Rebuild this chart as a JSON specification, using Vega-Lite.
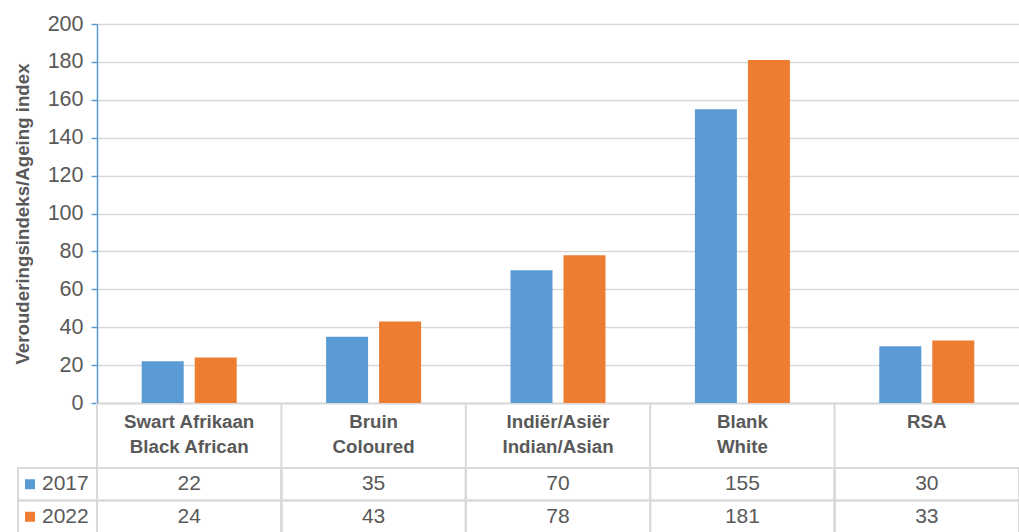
{
  "$schema": "https://vega.github.io/schema/vega-lite/v6.json",
  "background": "white",
  "padding": {"left": 13, "top": 13, "right": 0, "bottom": 0},
  "config": {
    "view": {"stroke": null},
    "font": "Liberation Sans",
    "axis": {"labelFont": "Liberation Sans", "titleFont": "Liberation Sans"}
  },
  "datasets": {
    "vals": [
      {"cat": "Swart Afrikaan|Black African", "year": "2017", "value": 22},
      {"cat": "Swart Afrikaan|Black African", "year": "2022", "value": 24},
      {"cat": "Bruin|Coloured", "year": "2017", "value": 35},
      {"cat": "Bruin|Coloured", "year": "2022", "value": 43},
      {"cat": "Indiër/Asiër|Indian/Asian", "year": "2017", "value": 70},
      {"cat": "Indiër/Asiër|Indian/Asian", "year": "2022", "value": 78},
      {"cat": "Blank|White", "year": "2017", "value": 155},
      {"cat": "Blank|White", "year": "2022", "value": 181},
      {"cat": "RSA", "year": "2017", "value": 30},
      {"cat": "RSA", "year": "2022", "value": 33}
    ],
    "cats": [
      {"cat": "Swart Afrikaan|Black African"},
      {"cat": "Bruin|Coloured"},
      {"cat": "Indiër/Asiër|Indian/Asian"},
      {"cat": "Blank|White"},
      {"cat": "RSA"}
    ],
    "years": [{"year": "2017"}, {"year": "2022"}]
  },
  "columns": 2,
  "spacing": 0,
  "bounds": "flush",
  "resolve": {"scale": {"x": "independent", "y": "independent", "color": "shared"}},
  "concat": [
    {
      "width": 79,
      "height": 379,
      "data": {"name": "years"},
      "mark": {"type": "point", "opacity": 0},
      "encoding": {}
    },
    {
      "width": 922,
      "height": 379,
      "data": {"name": "vals"},
      "mark": {"type": "bar"},
      "encoding": {
        "x": {
          "field": "cat", "type": "nominal",
          "scale": {"domain": ["Swart Afrikaan|Black African", "Bruin|Coloured", "Indiër/Asiër|Indian/Asian", "Blank|White", "RSA"], "paddingInner": 0, "paddingOuter": 0},
          "axis": {"labels": false, "ticks": false, "title": null, "domainColor": "#d9d9d9", "domainWidth": 2}
        },
        "xOffset": {
          "field": "year", "type": "nominal",
          "scale": {"domain": ["2017", "2022"], "paddingInner": 0.2075, "paddingOuter": 0.843}
        },
        "y": {
          "field": "value", "type": "quantitative",
          "scale": {"domain": [0, 200]},
          "axis": {
            "values": [0, 20, 40, 60, 80, 100, 120, 140, 160, 180, 200],
            "title": "Verouderingsindeks/Ageing index",
            "domainColor": "#5b9bd5", "domainWidth": 1.5,
            "tickColor": "#5b9bd5", "tickWidth": 1.5, "tickSize": 6,
            "gridColor": "#d9d9d9", "gridWidth": 1.5,
            "labelFontSize": 21.5, "labelColor": "#595959", "labelPadding": 8,
            "titleFontSize": 18.7, "titleColor": "#595959", "titleFontWeight": "bold", "titlePadding": 15
          }
        },
        "color": {
          "field": "year", "type": "nominal",
          "scale": {"domain": ["2017", "2022"], "range": ["#5b9bd5", "#ed7d31"]},
          "legend": null
        }
      }
    },
    {
      "width": 79,
      "height": 130,
      "data": {"name": "years"},
      "encoding": {
        "y": {"field": "year", "type": "nominal", "scale": {"domain": ["h1", "h2", "2017", "2022"], "paddingInner": 0, "paddingOuter": 0}, "axis": null}
      },
      "layer": [
        {"mark": {"type": "rect", "fill": "transparent", "stroke": "#d9d9d9", "strokeWidth": 2}},
        {
          "mark": {"type": "square", "size": 100, "filled": true, "opacity": 1, "xOffset": -27.5},
          "encoding": {"color": {"field": "year", "type": "nominal", "scale": {"domain": ["2017", "2022"], "range": ["#5b9bd5", "#ed7d31"]}, "legend": null}}
        },
        {
          "mark": {"type": "text", "fontSize": 21, "color": "#595959", "align": "left", "dx": -15.5},
          "encoding": {"text": {"field": "year"}}
        }
      ]
    },
    {
      "width": 922,
      "height": 130,
      "layer": [
        {
          "data": {"name": "cats"},
          "mark": {"type": "rule", "color": "#d9d9d9", "strokeWidth": 2},
          "encoding": {
            "x": {"field": "cat", "type": "nominal", "bandPosition": 0, "scale": {"domain": ["Swart Afrikaan|Black African", "Bruin|Coloured", "Indiër/Asiër|Indian/Asian", "Blank|White", "RSA"], "paddingInner": 0, "paddingOuter": 0}, "axis": null}
          }
        },
        {
          "data": {"name": "vals"},
          "mark": {"type": "rect", "fill": "transparent", "stroke": "#d9d9d9", "strokeWidth": 2},
          "encoding": {
            "x": {"field": "cat", "type": "nominal", "axis": null},
            "y": {"field": "year", "type": "nominal", "scale": {"domain": ["h1", "h2", "2017", "2022"], "paddingInner": 0, "paddingOuter": 0}, "axis": null}
          }
        },
        {
          "data": {"name": "vals"},
          "mark": {"type": "text", "fontSize": 21, "color": "#595959"},
          "encoding": {
            "x": {"field": "cat", "type": "nominal", "axis": null},
            "y": {"field": "year", "type": "nominal", "axis": null},
            "text": {"field": "value", "type": "quantitative"}
          }
        },
        {
          "data": {"name": "cats"},
          "mark": {"type": "text", "fontSize": 18.7, "fontWeight": "bold", "color": "#595959", "lineBreak": "|", "lineHeight": 25, "baseline": "top", "dy": -6},
          "encoding": {
            "x": {"field": "cat", "type": "nominal", "axis": null},
            "y": {"datum": "h1", "type": "nominal", "axis": null},
            "text": {"field": "cat"}
          }
        }
      ]
    }
  ]
}
